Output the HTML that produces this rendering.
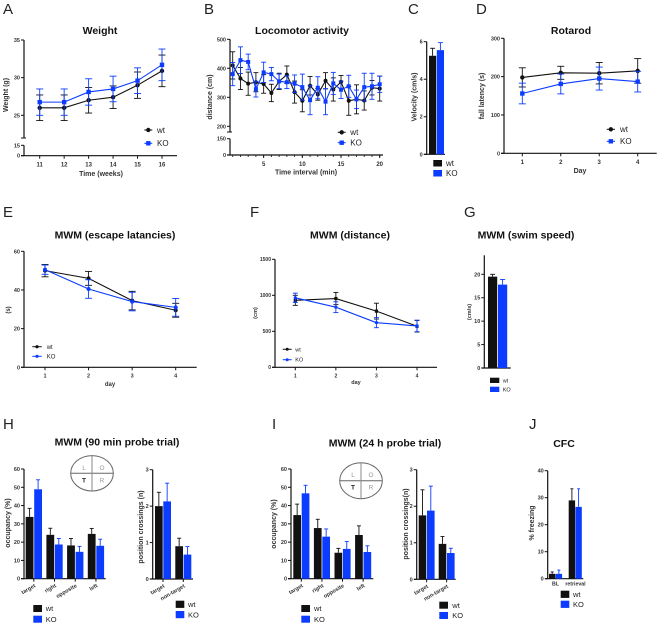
<!DOCTYPE html>
<html>
<head>
<meta charset="utf-8">
<title>Behavioural phenotyping figure</title>
<style>
html,body{margin:0;padding:0;background:#fff;width:660px;height:625px;overflow:hidden}
svg{display:block;font-family:"Liberation Sans",sans-serif;filter:blur(.3px)}
</style>
</head>
<body>
<svg id="figure" width="660" height="625" viewBox="0 0 660 625" xmlns="http://www.w3.org/2000/svg"></svg>
<script>
// ---- Panel A data
const weightWeeks = [11, 12, 13, 14, 15, 16];
const weightWt = [26, 26, 27, 27.4, 29, 30.9];
const weightWtErr = [1.7, 1.7, 1.7, 1.5, 1.75, 2.1];
const weightKo = [26.75, 26.75, 28.1, 28.5, 29.6, 31.7];
const weightKoErr = [1.75, 1.75, 1.75, 1.7, 1.7, 2.1];
const weightTicks = [35, 30, 25, 15, 0];
// ---- Panel B data
const locoMinutes = [1, 2, 3, 4, 5, 6, 7, 8, 9, 10, 11, 12, 13, 14, 15, 16, 17, 18, 19, 20];
const locoWt = [410, 365, 347, 352, 346, 315, 355, 378, 318, 288, 340, 310, 357, 327, 353, 288, 293, 289, 333, 330];
const locoWtErr = [47, 38, 40, 33, 32, 30, 28, 30, 38, 38, 32, 20, 28, 40, 22, 50, 50, 33, 25, 43];
const locoKo = [380, 428, 422, 328, 386, 380, 355, 352, 347, 335, 290, 333, 285, 348, 326, 338, 293, 335, 338, 345];
const locoKoErr = [40, 46, 27, 27, 35, 23, 25, 22, 30, 45, 50, 38, 45, 38, 30, 38, 32, 48, 45, 28];
const locoYTicks = [500, 400, 300, 200, 150, 0];
const locoXTicks = [5, 10, 15, 20];
// ---- Panel C data
const velocityValues = [5.25, 5.55];
const velocityErr = [0.4, 0.4];
const velocityTicks = [0, 2, 4, 6];
// ---- Panel D data
const rotarodDays = [1, 2, 3, 4];
const rotarodWt = [198, 210, 209, 215];
const rotarodWtErr = [25, 17, 28, 32];
const rotarodKo = [156, 181, 195, 187];
const rotarodKoErr = [27, 26, 30, 27];
const rotarodTicks = [0, 100, 200, 300];
// ---- Panel E data
const escapeDays = [1, 2, 3, 4];
const escapeWt = [50, 46, 34.5, 29.5];
const escapeWtErr = [3.2, 3.6, 4.8, 3.6];
const escapeKo = [50.5, 40.5, 34, 31];
const escapeKoErr = [2.4, 4.8, 4.8, 4.6];
const escapeTicks = [0, 20, 40, 60];
// ---- Panel F data
const distanceDays = [1, 2, 3, 4];
const distanceWt = [930, 955, 780, 570];
const distanceWtErr = [70, 85, 110, 80];
const distanceKo = [965, 835, 620, 575];
const distanceKoErr = [65, 75, 70, 80];
const distanceTicks = [0, 500, 1000, 1500];
// ---- Panel G data
const swimValues = [19.5, 17.8];
const swimErr = [0.5, 1.1];
const swimTicks = [0, 5, 10, 15, 20];
// ---- Panels H and I data
const quadrantLabels = ["target", "right", "opposite", "left"];
const crossingLabels = ["target", "non-target"];
const occupancyTicks = [0, 10, 20, 30, 40, 50, 60];
const crossingTicks = [0, 1, 2, 3];
const occ90Wt = [33.8, 24, 18.2, 24.5];
const occ90WtErr = [4.7, 3.6, 3.8, 3];
const occ90Ko = [48.9, 18.7, 14.7, 18];
const occ90KoErr = [5.2, 3.3, 3, 3.6];
const cross90Wt = [2.0, 0.9];
const cross90WtErr = [0.38, 0.22];
const cross90Ko = [2.13, 0.67];
const cross90KoErr = [0.5, 0.22];
const occ24Wt = [34.8, 27.7, 14.2, 23.9];
const occ24WtErr = [6, 4.8, 2.4, 5];
const occ24Ko = [46.7, 23, 16.3, 14.6];
const occ24KoErr = [4.4, 4.2, 4, 3.4];
const cross24Wt = [1.75, 0.97];
const cross24WtErr = [0.7, 0.2];
const cross24Ko = [1.88, 0.72];
const cross24KoErr = [0.67, 0.13];
// ---- Panel J data
const cfcLabels = ["BL", "retrieval"];
const cfcWt = [1.8, 29];
const cfcWtErr = [0.7, 4.3];
const cfcKo = [1.8, 26.6];
const cfcKoErr = [1.4, 6.7];
const cfcTicks = [0, 10, 20, 30, 40];

const BLACK = "#111111";
const BLUE = "#0b3cff";
const root = document.getElementById("figure");

function mk(parent, tag, attrs, name, txt) {
  const e = document.createElementNS("http://www.w3.org/2000/svg", tag);
  for (const k in attrs) e.setAttribute(k, attrs[k]);
  
  
  if (txt !== undefined) e.textContent = txt;
  parent.appendChild(e);
  return e;
}
function linear(d0, d1, r0, r1) {
  return v => r0 + (v - d0) * (r1 - r0) / (d1 - d0);
}
function broken(upper, lower, limit) {
  return v => v >= limit ? upper(v) : lower(v);
}
function panelGroup(name) { return mk(root, "g", {}, name); }
function line(p, x1, y1, x2, y2, color, w, name) {
  return mk(p, "line", {x1, y1, x2, y2, stroke: color, "stroke-width": w}, name);
}
function label(p, x, y, s, size, opts, name) {
  const o = opts || {};
  const a = {x, y, "font-size": size, fill: o.fill || "#222", "text-anchor": o.anchor || "middle", "font-weight": o.weight || "normal"};
  if (o.rotate !== undefined) a.transform = "rotate(" + o.rotate + " " + x + " " + y + ")";
  return mk(p, "text", a, name, s);
}
function letter(s, x, y) { label(root, x, y, s, 15, {anchor: "start", fill: "#222"}, "panel-letter-" + s.toLowerCase()); }
function title(p, s, x, y) { label(p, x, y, s, 10.5, {weight: "bold", fill: "#111"}, "chart-title"); }
function yTitle(p, s, x, y, size) { label(p, x, y, s, size, {weight: "bold", rotate: -90, fill: "#333"}, "y-axis-title"); }
function xTitle(p, s, x, y, size) { label(p, x, y, s, size, {weight: "bold", fill: "#333"}, "x-axis-title"); }

function yAxis(p, x, ys, ticks, size, tickLen) {
  ticks.forEach(t => {
    line(p, x - tickLen, ys(t), x, ys(t), "#111", 1, "y-tick");
    label(p, x - tickLen - 1, ys(t) + size * 0.36, String(t), size, {anchor: "end", weight: "bold", fill: "#333"}, "y-tick-label");
  });
}
function axisLine(p, x1, y1, x2, y2, name) { line(p, x1, y1, x2, y2, "#111", 1.2, name); }
function xTicks(p, xs, base, ticks, size) {
  ticks.forEach(t => {
    line(p, xs(t), base, xs(t), base + 3, "#111", 1, "x-tick");
    label(p, xs(t), base + 6 + size * 0.8, String(t), size, {weight: "bold", fill: "#333"}, "x-tick-label");
  });
}
function series(p, cats, vals, errs, xs, ys, color, shape, r, cap, name) {
  const g = mk(p, "g", {}, "series-" + name);
  cats.forEach((c, i) => {
    const x = xs(c);
    line(g, x, ys(vals[i] - errs[i]), x, ys(vals[i] + errs[i]), color, 0.9, "error-bar");
    line(g, x - cap, ys(vals[i] + errs[i]), x + cap, ys(vals[i] + errs[i]), color, 0.9, "error-cap-top");
    line(g, x - cap, ys(vals[i] - errs[i]), x + cap, ys(vals[i] - errs[i]), color, 0.9, "error-cap-bottom");
  });
  const pts = cats.map((c, i) => xs(c) + "," + ys(vals[i])).join(" ");
  mk(g, "polyline", {points: pts, fill: "none", stroke: color, "stroke-width": 1.1}, "series-line");
  cats.forEach((c, i) => marker(g, xs(c), ys(vals[i]), color, shape, r));
}
function marker(p, x, y, color, shape, r) {
  if (shape === "square") mk(p, "rect", {x: x - r, y: y - r, width: 2 * r, height: 2 * r, fill: color}, "point-marker");
  else mk(p, "circle", {cx: x, cy: y, r, fill: color}, "point-marker");
}
function lineLegend(p, x1, x2, y1, y2, tx, size, r, shapeKo) {
  line(p, x1, y1, x2, y1, BLACK, 1, "legend-line-wt");
  marker(p, (x1 + x2) / 2, y1, BLACK, "circle", r);
  label(p, tx, y1 + size * 0.36, "wt", size, {anchor: "start"}, "legend-entry-wt");
  line(p, x1, y2, x2, y2, BLUE, 1, "legend-line-ko");
  marker(p, (x1 + x2) / 2, y2, BLUE, shapeKo, r);
  label(p, tx, y2 + size * 0.36, "KO", size, {anchor: "start"}, "legend-entry-ko");
}
function barLegend(p, x1, x2, y1, h, y2, tx, size) {
  mk(p, "rect", {x: x1, y: y1, width: x2 - x1, height: h, fill: BLACK}, "legend-swatch-wt");
  label(p, tx, y1 + h / 2 + size * 0.36, "wt", size, {anchor: "start"}, "legend-entry-wt");
  mk(p, "rect", {x: x1, y: y2, width: x2 - x1, height: h, fill: BLUE}, "legend-swatch-ko");
  label(p, tx, y2 + h / 2 + size * 0.36, "KO", size, {anchor: "start"}, "legend-entry-ko");
}
function bar(p, x, w, v, err, ys, color, cap, name) {
  const y0 = ys(0), yv = ys(v), ye = ys(v + err), cx = x + w / 2;
  mk(p, "rect", {x, y: yv, width: w, height: y0 - yv, fill: color}, "bar-" + name);
  line(p, cx, yv, cx, ye, color, 0.9, "error-bar");
  line(p, cx - cap, ye, cx + cap, ye, color, 0.9, "error-cap");
}
function groupedBars(p, wt, wtErr, ko, koErr, ys, first, step, w, gap, cap) {
  wt.forEach((v, i) => {
    const x = first + i * step;
    bar(p, x, w, v, wtErr[i], ys, BLACK, cap, "wt-" + i);
    bar(p, x + w + gap, w, ko[i], koErr[i], ys, BLUE, cap, "ko-" + i);
  });
}
function rotatedLabels(p, labels, first, step, w, gap, base, size) {
  labels.forEach((s, i) => {
    const c = first + i * step + w + gap / 2;
    line(p, c, base, c, base + 3, "#111", 1, "x-tick");
    label(p, c + 2, base + 8, s, size, {anchor: "end", weight: "bold", rotate: -30, fill: "#333"}, "x-tick-label");
  });
}
function quadrant(p, cx, cy, rx, ry) {
  mk(p, "ellipse", {cx, cy, rx, ry, fill: "none", stroke: "#666", "stroke-width": 1}, "maze-outline");
  line(p, cx - rx, cy, cx + rx, cy, "#666", 1, "maze-horizontal-divider");
  line(p, cx, cy - ry, cx, cy + ry, "#888", 1, "maze-vertical-divider");
  label(p, cx - 8, cy - 3.5, "L", 6.5, {fill: "#999"}, "quadrant-left");
  label(p, cx + 10, cy - 3.5, "O", 6.5, {fill: "#999"}, "quadrant-opposite");
  label(p, cx - 8, cy + 9, "T", 6.5, {fill: "#222", weight: "bold"}, "quadrant-target");
  label(p, cx + 10, cy + 9, "R", 6.5, {fill: "#999"}, "quadrant-right");
}

// Panel letters
[["A",3,14],["B",204,14],["C",408,14],["D",476,14],["E",3,217],["F",250,217],["G",464,217],["H",3,429],["I",272,429],["J",529,429]]
  .forEach(l => letter(l[0], l[1], l[2]));

// Panel A
(function () {
  const p = panelGroup("panel-a-weight");
  const xs = linear(11, 16, 39.7, 162);
  const ys = broken(linear(25, 35, 115.3, 40), linear(0, 15, 155.7, 145.3), 20);
  title(p, "Weight", 100, 34);
  axisLine(p, 24, 40, 24, 138, "y-axis-upper");
  axisLine(p, 24, 145.3, 24, 155.7, "y-axis-lower");
  line(p, 21, 138, 26, 138, "#111", 1, "axis-break-mark");
  axisLine(p, 21, 155.7, 177, 155.7, "x-axis");
  yAxis(p, 24, ys, weightTicks, 5.5, 3);
  xTicks(p, xs, 155.7, weightWeeks, 6);
  series(p, weightWeeks, weightWt, weightWtErr, xs, ys, BLACK, "circle", 2.2, 3.5, "wt");
  series(p, weightWeeks, weightKo, weightKoErr, xs, ys, BLUE, "square", 2.2, 3.5, "ko");
  lineLegend(p, 144.3, 152.3, 130, 143.3, 157, 8, 2.2, "square");
  xTitle(p, "Time (weeks)", 101, 176, 7);
  yTitle(p, "Weight (g)", 8, 95, 7);
})();

// Panel B
(function () {
  const p = panelGroup("panel-b-locomotor-activity");
  const xs = linear(1, 20, 232.7, 379.7);
  const ys = broken(linear(200, 500, 126.3, 39.3), linear(0, 150, 155, 138.7), 175);
  title(p, "Locomotor activity", 302, 34);
  axisLine(p, 230, 39.3, 230, 132, "y-axis-upper");
  axisLine(p, 230, 138.7, 230, 155, "y-axis-lower");
  line(p, 227, 132, 232, 132, "#111", 1, "axis-break-mark");
  axisLine(p, 227, 155, 383, 155, "x-axis");
  yAxis(p, 230, ys, locoYTicks, 5.5, 3);
  locoMinutes.forEach(m => line(p, xs(m), 155, xs(m), 157, "#111", 0.8, "x-minor-tick"));
  xTicks(p, xs, 155, locoXTicks, 6);
  series(p, locoMinutes, locoWt, locoWtErr, xs, ys, BLACK, "circle", 2, 2.5, "wt");
  series(p, locoMinutes, locoKo, locoKoErr, xs, ys, BLUE, "square", 2, 2.5, "ko");
  lineLegend(p, 337.7, 345.7, 132.3, 142.7, 350.3, 8, 2.2, "square");
  xTitle(p, "Time interval (min)", 306, 174.5, 7);
  yTitle(p, "distance (cm)", 212, 97, 7);
})();

// Panel C
(function () {
  const p = panelGroup("panel-c-velocity");
  const ys = linear(0, 6, 154.3, 41.7);
  axisLine(p, 426.7, 41.7, 426.7, 154.3, "y-axis");
  axisLine(p, 424, 154.3, 445, 154.3, "x-axis");
  yAxis(p, 426.7, ys, velocityTicks, 5.5, 3);
  groupedBars(p, [velocityValues[0]], [velocityErr[0]], [velocityValues[1]], [velocityErr[1]], ys, 429, 20, 7.2, 0.6, 2.5);
  barLegend(p, 433.3, 442, 160, 6.5, 170, 446, 8);
  yTitle(p, "Velocity (cm/s)", 416.5, 97, 7);
})();

// Panel D
(function () {
  const p = panelGroup("panel-d-rotarod");
  const xs = linear(1, 4, 522.3, 637.7);
  const ys = linear(0, 300, 153.3, 38.3);
  title(p, "Rotarod", 571, 34);
  axisLine(p, 504, 38.3, 504, 153.3, "y-axis");
  axisLine(p, 501, 153.3, 656.7, 153.3, "x-axis");
  yAxis(p, 504, ys, rotarodTicks, 5.5, 3);
  xTicks(p, xs, 153.3, rotarodDays, 6);
  series(p, rotarodDays, rotarodWt, rotarodWtErr, xs, ys, BLACK, "circle", 2.2, 3.5, "wt");
  series(p, rotarodDays, rotarodKo, rotarodKoErr, xs, ys, BLUE, "square", 2.2, 3.5, "ko");
  lineLegend(p, 606.7, 615, 129.3, 141.3, 620, 8, 2.2, "square");
  xTitle(p, "Day", 580, 173, 7);
  yTitle(p, "fall latency (s)", 484, 96, 7);
})();

// Panel E
(function () {
  const p = panelGroup("panel-e-escape-latencies");
  const xs = linear(1, 4, 45, 175.7);
  const ys = linear(0, 60, 367.3, 251.3);
  title(p, "MWM (escape latancies)", 115, 238.5);
  axisLine(p, 24, 251.3, 24, 367.3, "y-axis");
  axisLine(p, 21, 367.3, 196.7, 367.3, "x-axis");
  yAxis(p, 24, ys, escapeTicks, 5.5, 3);
  xTicks(p, xs, 367.3, escapeDays, 5.5);
  series(p, escapeDays, escapeWt, escapeWtErr, xs, ys, BLACK, "circle", 2, 3.5, "wt");
  series(p, escapeDays, escapeKo, escapeKoErr, xs, ys, BLUE, "circle", 2, 3.5, "ko");
  lineLegend(p, 32.3, 41.7, 346.7, 356.3, 46.7, 6, 1.6, "circle");
  xTitle(p, "day", 110, 386, 6);
  yTitle(p, "(s)", 10, 310, 6);
})();

// Panel F
(function () {
  const p = panelGroup("panel-f-distance");
  const xs = linear(1, 4, 295.3, 417);
  const ys = linear(0, 1500, 367.3, 259.3);
  title(p, "MWM (distance)", 350, 238.5);
  axisLine(p, 275, 259.3, 275, 367.3, "y-axis");
  axisLine(p, 272, 367.3, 437, 367.3, "x-axis");
  yAxis(p, 275, ys, distanceTicks, 5, 3);
  xTicks(p, xs, 367.3, distanceDays, 5);
  series(p, distanceDays, distanceWt, distanceWtErr, xs, ys, BLACK, "square", 1.6, 2.5, "wt");
  series(p, distanceDays, distanceKo, distanceKoErr, xs, ys, BLUE, "circle", 1.6, 2.5, "ko");
  lineLegend(p, 282.7, 291.7, 349.3, 359.7, 295.3, 5.5, 1.5, "circle");
  xTitle(p, "day", 356, 384, 5.5);
  yTitle(p, "(cm)", 257, 313, 5.5);
})();

// Panel G
(function () {
  const p = panelGroup("panel-g-swim-speed");
  const ys = linear(0, 20, 368, 274.3);
  title(p, "MWM (swim speed)", 526, 238.5);
  axisLine(p, 484.3, 255.3, 484.3, 368, "y-axis");
  axisLine(p, 481.5, 368, 510.7, 368, "x-axis");
  yAxis(p, 484.3, ys, swimTicks, 5.5, 3);
  groupedBars(p, [swimValues[0]], [swimErr[0]], [swimValues[1]], [swimErr[1]], ys, 488, 20, 9.2, 0.8, 2.5);
  barLegend(p, 490, 499.3, 377.7, 5.3, 386.7, 502.7, 5.5);
  yTitle(p, "(cm/s)", 471, 312, 5.5);
})();

// Panel H
(function () {
  const p = panelGroup("panel-h-90-min-probe-trial");
  title(p, "MWM (90 min probe trial)", 117, 445.5);
  const ys = linear(0, 60, 578.7, 469);
  axisLine(p, 24, 469, 24, 578.7, "y-axis-occupancy");
  axisLine(p, 21, 578.7, 105.7, 578.7, "x-axis-occupancy");
  yAxis(p, 24, ys, occupancyTicks, 5.5, 3);
  groupedBars(p, occ90Wt, occ90WtErr, occ90Ko, occ90KoErr, ys, 25.7, 20.7, 7.8, 0.7, 2);
  rotatedLabels(p, quadrantLabels, 25.7, 20.7, 7.8, 0.7, 578.7, 5.5);
  barLegend(p, 33.3, 42, 605, 7, 615.7, 45.7, 7.5);
  yTitle(p, "occupancy (%)", 10, 523, 7);
  quadrant(p, 92, 473.3, 21.3, 17.7);
  const y2 = linear(0, 3, 579, 469.7);
  axisLine(p, 152.7, 469.7, 152.7, 579, "y-axis-crossings");
  axisLine(p, 150, 579, 193, 579, "x-axis-crossings");
  yAxis(p, 152.7, y2, crossingTicks, 5.5, 3);
  groupedBars(p, cross90Wt, cross90WtErr, cross90Ko, cross90KoErr, y2, 155, 20.3, 7.7, 0.6, 2);
  rotatedLabels(p, crossingLabels, 155, 20.3, 7.7, 0.6, 579, 5.5);
  barLegend(p, 175.7, 184.3, 600.7, 7.2, 611, 188, 7.5);
  yTitle(p, "position crossings (n)", 143, 527, 7);
})();

// Panel I
(function () {
  const p = panelGroup("panel-i-24-h-probe-trial");
  title(p, "MWM (24 h probe trial)", 385, 446.5);
  const ys = linear(0, 60, 578.7, 469);
  axisLine(p, 291, 469, 291, 578.7, "y-axis-occupancy");
  axisLine(p, 288, 578.7, 373.3, 578.7, "x-axis-occupancy");
  yAxis(p, 291, ys, occupancyTicks, 5.5, 3);
  groupedBars(p, occ24Wt, occ24WtErr, occ24Ko, occ24KoErr, ys, 293.3, 20.6, 7.7, 0.7, 2);
  rotatedLabels(p, quadrantLabels, 293.3, 20.6, 7.7, 0.7, 578.7, 5.5);
  barLegend(p, 301.3, 310, 605, 7, 615.7, 314, 7.5);
  yTitle(p, "occupancy (%)", 276, 524, 7);
  quadrant(p, 361, 480.7, 21.3, 18);
  const y2 = linear(0, 3, 579.3, 469.7);
  axisLine(p, 416.7, 469.7, 416.7, 579.3, "y-axis-crossings");
  axisLine(p, 414, 579.3, 455.7, 579.3, "x-axis-crossings");
  yAxis(p, 416.7, y2, crossingTicks, 5.5, 3);
  groupedBars(p, cross24Wt, cross24WtErr, cross24Ko, cross24KoErr, y2, 418.7, 20, 7.6, 0.7, 2);
  rotatedLabels(p, crossingLabels, 418.7, 20, 7.6, 0.7, 579.3, 5.5);
  barLegend(p, 439.3, 448, 601.7, 7, 612, 452.3, 7.5);
  yTitle(p, "position crossings(n)", 408, 524, 7);
})();

// Panel J
(function () {
  const p = panelGroup("panel-j-cfc");
  title(p, "CFC", 564, 447);
  const ys = linear(0, 40, 578.7, 470.7);
  axisLine(p, 547.7, 470.7, 547.7, 578.7, "y-axis");
  axisLine(p, 545, 578.7, 583.3, 578.7, "x-axis");
  yAxis(p, 547.7, ys, cfcTicks, 5.5, 3);
  groupedBars(p, cfcWt, cfcWtErr, cfcKo, cfcKoErr, ys, 549, 19.7, 6.4, 0.3, 1.5);
  cfcLabels.forEach((s, i) => label(p, 555.5 + i * 20, 585.5, s, 5.2, {weight: "bold", fill: "#333"}, "x-tick-label"));
  barLegend(p, 560.7, 569.3, 590.7, 7.2, 600.7, 573, 7.5);
  yTitle(p, "% freezing", 534, 523, 7);
})();
</script>
</body>
</html>
